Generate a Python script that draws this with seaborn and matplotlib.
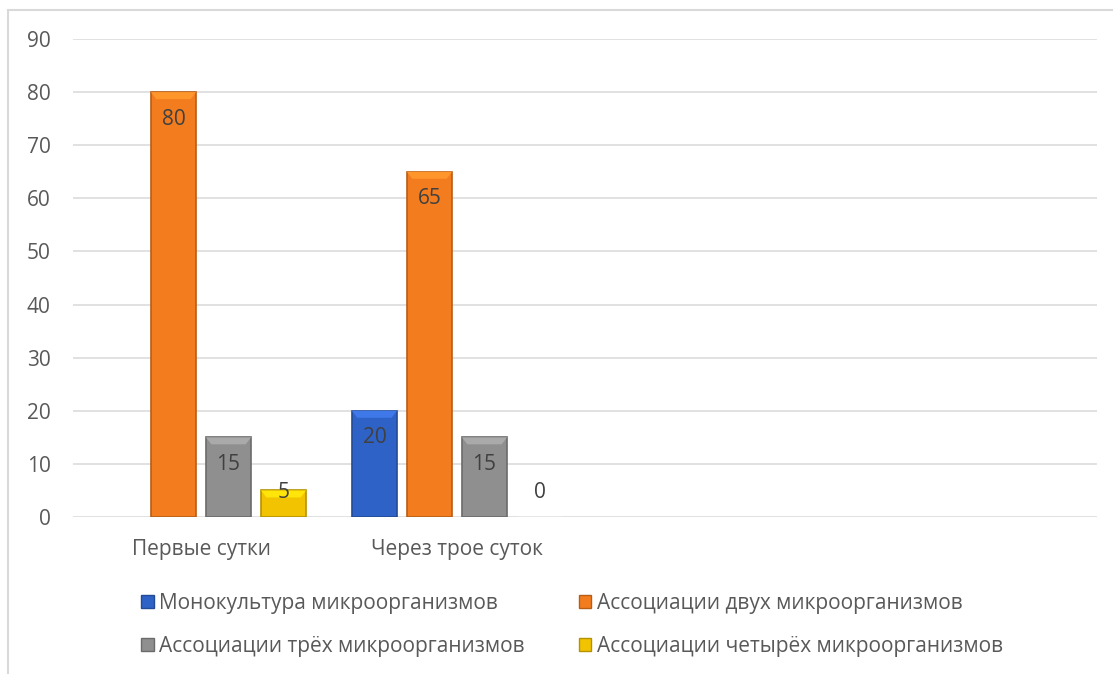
import pandas as pd
import matplotlib.pyplot as plt
import matplotlib.colors as mcolors
from matplotlib.patches import Polygon, Rectangle
import seaborn as sns
import numpy as np

sns.set_theme(style="white")
plt.rcParams['font.family'] = ['Open Sans', 'DejaVu Sans']

# data
periods = ['Первые сутки', 'Через трое суток']
groups = ['Монокультура микроорганизмов', 'Ассоциации двух микроорганизмов',
          'Ассоциации трёх микроорганизмов', 'Ассоциации четырёх микроорганизмов']
mono = [np.nan, 20]
two = [80, 65]
three = [15, 15]
four = [5, 0]
colors = ['#2F62C6', '#F37D1E', '#8F8F8F', '#F2C300']

rows = []
for vals, g in zip([mono, two, three, four], groups):
    for p, v in zip(periods, vals):
        rows.append({'period': p, 'group': g, 'value': v})
df = pd.DataFrame(rows)

fig = plt.figure(figsize=(11.13, 6.74), dpi=100)
ax = fig.add_axes([73 / 1113, 1 - 517 / 674, 1024 / 1113, 478 / 674])

sns.barplot(data=df, x='period', y='value', hue='group', hue_order=groups,
            order=periods, palette=colors, width=0.86, gap=0.18,
            errorbar=None, ax=ax, legend=False, saturation=1)

ax.set_xlim(-0.5, 3.5)
ax.set_ylim(0, 90)
ax.set_yticks(range(0, 91, 10))
ax.yaxis.grid(True, color='#D9D9D9', linewidth=1.1)
ax.set_axisbelow(True)
for s in ax.spines.values():
    s.set_visible(False)
ax.set_xlabel('')
ax.set_ylabel('')
ax.tick_params(axis='y', length=0, pad=16, labelsize=15, labelcolor='#595959')
ax.tick_params(axis='x', length=0, pad=16, labelsize=15, labelcolor='#595959')

# bevel look + data labels
px_y = 90 / 478
for cont, col in zip(ax.containers, colors):
    dark = np.array(mcolors.to_rgb(col)) * 0.75
    light = np.minimum(np.array(mcolors.to_rgb(col)) * 1.12 + 0.04, 1)
    for bar in cont:
        h = bar.get_height()
        if np.isnan(h):
            continue
        x0, w = bar.get_x(), bar.get_width()
        if h > 0:
            bar.set_edgecolor(dark)
            bar.set_linewidth(1.2)
            cap = min(7 * px_y, h / 2)
            inset = w * 0.12
            ax.add_patch(Polygon([[x0, h], [x0 + w, h], [x0 + w - inset, h - cap],
                                  [x0 + inset, h - cap]], closed=True,
                                 facecolor=light, edgecolor='none', zorder=3))
        ax.text(x0 + w / 2, max(h - 5.1, 4.6), f'{h:g}', ha='center', va='center',
                fontsize=15, color='#404040', zorder=4)

# legend (matplotlib fills columns first, so reorder to get row-wise layout)
handles = [Rectangle((0, 0), 1, 1, facecolor=c, edgecolor=np.array(mcolors.to_rgb(c)) * 0.75)
           for c in colors]
order = [0, 2, 1, 3]
fig.legend([handles[i] for i in order], [groups[i] for i in order], ncol=2,
           loc='center', bbox_to_anchor=(572 / 1113, 1 - 625 / 674), frameon=False,
           fontsize=15, labelcolor='#595959', handlelength=0.6, handleheight=0.6,
           handletextpad=0.25, columnspacing=2.6, labelspacing=1.05)

# chart area border
fig.add_artist(Rectangle((8 / 1113, -0.05), 1.2, 1 - 10 / 674 + 0.05,
                         transform=fig.transFigure, fill=False,
                         edgecolor='#D9D9D9', linewidth=1.5))

fig.savefig('out.png', dpi=100)
